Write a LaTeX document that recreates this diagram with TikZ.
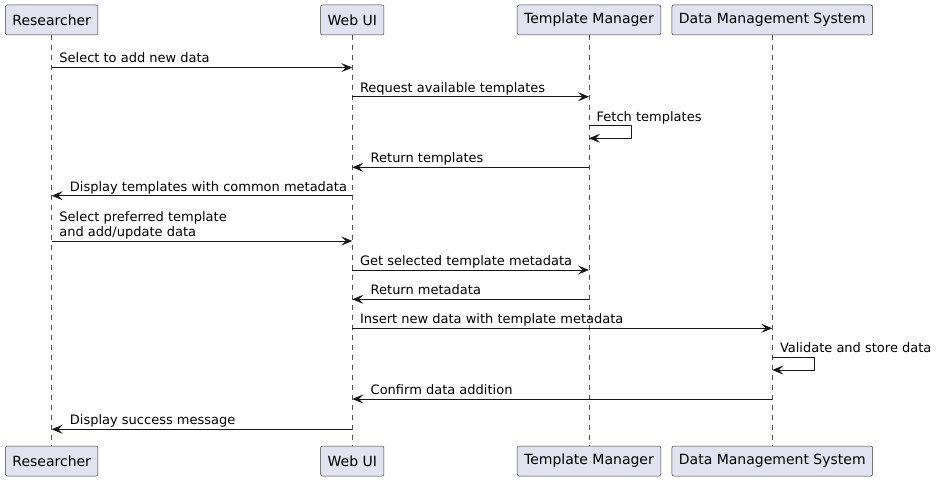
\documentclass[tikz,border=0pt]{standalone}
\usepackage{fontspec}
\setmainfont{DejaVu Sans}
\usetikzlibrary{arrows.meta}
\definecolor{boxfill}{HTML}{E2E2F0}
\definecolor{ink}{HTML}{181818}
\tikzset{
	part/.style={draw=ink!85, fill=boxfill, rounded corners=2pt, line width=0.5pt, minimum height=30pt, inner xsep=7pt, font=\fontsize{14}{16}\selectfont},
	life/.style={draw=ink!75, line width=0.6pt, dash pattern=on 5pt off 5pt},
	msg/.style={draw=ink, line width=0.8pt, -{Stealth[length=11pt,width=9pt,inset=4.5pt]}},
	lbl/.style={anchor=base west, inner sep=0pt, font=\fontsize{13}{15}\selectfont},
}
\begin{document}
\begin{tikzpicture}[x=1pt, y=-1pt, line join=round]
				\useasboundingbox (0,0) rectangle (938,481);
				% participants
				\node[part] (R) at (51.7,20) {Researcher};
				\node[part] (W) at (352.3,20) {Web UI};
				\node[part] (T) at (589,20) {Template Manager};
				\node[part] (D) at (772.3,20) {Data Management System};
				\node[part] (Rb) at (51.7,461) {Researcher};
				\node[part] (Wb) at (352.3,461) {Web UI};
				\node[part] (Tb) at (589,461) {Template Manager};
				\node[part] (Db) at (772.3,461) {Data Management System};
				% lifelines
				\draw[life] (R) -- (Rb) (W) -- (Wb) (T) -- (Tb) (D) -- (Db);
				% messages
				\coordinate (m1) at (0,67.6);
				\coordinate (m2) at (0,96.7);
				\coordinate (m3a) at (631.7,125.7);
				\coordinate (m3b) at (631.7,138.3);
				\coordinate (m4) at (0,167.3);
				\coordinate (m5) at (0,195.7);
				\coordinate (m6) at (0,241);
				\coordinate (m7) at (0,270);
				\coordinate (m8) at (0,299.3);
				\coordinate (m9) at (0,328.3);
				\coordinate (m10a) at (814.3,357.3);
				\coordinate (m10b) at (814.3,370);
				\coordinate (m11) at (0,399);
				\coordinate (m12) at (0,429.3);
				\draw[msg] (R |- m1) -- (W |- m1);
				\draw[msg] (W |- m2) -- (T |- m2);
				\draw[msg] (T |- m3a) -- (m3a) -- (m3b) -- (T |- m3b);
				\draw[msg] (T |- m4) -- (W |- m4);
				\draw[msg] (W |- m5) -- (R |- m5);
				\draw[msg] (R |- m6) -- (W |- m6);
				\draw[msg] (W |- m7) -- (T |- m7);
				\draw[msg] (T |- m8) -- (W |- m8);
				\draw[msg] (W |- m9) -- (D |- m9);
				\draw[msg] (D |- m10a) -- (m10a) -- (m10b) -- (D |- m10b);
				\draw[msg] (D |- m11) -- (W |- m11);
				\draw[msg] (W |- m12) -- (R |- m12);
				% labels
				\node[lbl] (l1) at (59.2,63) {Select to add new data};
				\node[lbl] (l2) at (359.8,92.2) {Request available templates};
				\node[lbl] (l3) at (596.5,121.2) {Fetch templates};
				\node[lbl] (l4) at (370.5,162.8) {Return templates};
				\node[lbl] (l5) at (69.7,191.2) {Display templates with common metadata};
				\node[lbl] (l6a) at (59.2,221.5) {Select preferred template};
				\node[lbl] (l6b) at (59.2,236.5) {and add/update data};
				\node[lbl] (l7) at (359.8,265.5) {Get selected template metadata};
				\node[lbl] (l8) at (370.5,294.8) {Return metadata};
				\node[lbl] (l9) at (359.8,323.8) {Insert new data with template metadata};
				\node[lbl] (l10) at (779.8,352.8) {Validate and store data};
				\node[lbl] (l11) at (370.5,394.5) {Confirm data addition};
				\node[lbl] (l12) at (69.7,424.8) {Display success message};
\end{tikzpicture}
\end{document}
